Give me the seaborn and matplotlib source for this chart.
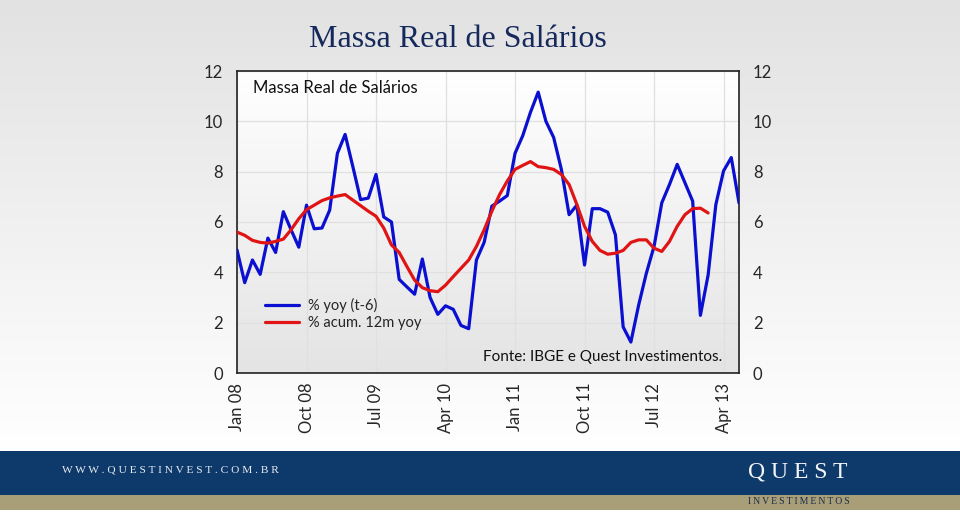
import numpy as np
import pandas as pd
import seaborn as sns
import matplotlib.pyplot as plt
from matplotlib.patches import Rectangle

# monthly series, Jan 08 .. Jun 13
yoy = [4.89, 3.59, 4.49, 3.92, 5.36, 4.79, 6.41, 5.69, 5.00, 6.67, 5.73, 5.76,
       6.47, 8.73, 9.48, 8.20, 6.89, 6.95, 7.89, 6.20, 6.00, 3.72, 3.42, 3.13,
       4.53, 3.00, 2.33, 2.67, 2.53, 1.89, 1.76, 4.49, 5.19, 6.63, 6.83, 7.05,
       8.73, 9.43, 10.36, 11.16, 10.00, 9.36, 8.09, 6.29, 6.67, 4.29, 6.53, 6.53,
       6.39, 5.49, 1.83, 1.23, 2.69, 3.96, 5.03, 6.76, 7.49, 8.29, 7.56, 6.83,
       2.29, 3.89, 6.69, 8.03, 8.56, 6.76]
acum = [5.60, 5.47, 5.27, 5.19, 5.16, 5.23, 5.32, 5.69, 6.13, 6.49, 6.67, 6.85,
        6.96, 7.03, 7.09, 6.87, 6.65, 6.43, 6.23, 5.76, 5.09, 4.79, 4.23, 3.69,
        3.39, 3.27, 3.23, 3.49, 3.83, 4.16, 4.49, 5.03, 5.69, 6.43, 7.09, 7.63,
        8.09, 8.25, 8.40, 8.20, 8.16, 8.09, 7.89, 7.49, 6.70, 5.83, 5.23, 4.87,
        4.72, 4.76, 4.87, 5.19, 5.29, 5.29, 4.96, 4.83, 5.23, 5.83, 6.29, 6.53,
        6.55, 6.36]
tick_labels = ["Jan 08", "Oct 08", "Jul 09", "Apr 10", "Jan 11", "Oct 11", "Jul 12", "Apr 13"]

df = pd.concat([
    pd.DataFrame({"mes": range(len(yoy)), "valor": yoy, "serie": "% yoy (t-6)"}),
    pd.DataFrame({"mes": range(len(acum)), "valor": acum, "serie": "% acum. 12m yoy"}),
])

sns.set_style("white")
plt.rcParams["font.family"] = ["Lato", "DejaVu Sans"]

fig = plt.figure(figsize=(9.6, 5.12), dpi=100)

# page background gradient
bg = fig.add_axes([0, 0, 1, 1], zorder=-10)
grad = np.linspace(0, 1, 256).reshape(-1, 1)
bg.imshow(grad, aspect="auto", cmap=sns.blend_palette(["#e2e2e2", "#ffffff"], as_cmap=True),
          extent=[0, 1, 0.12, 1])
bg.set_xlim(0, 1)
bg.set_ylim(0, 1)
bg.axis("off")

ax = fig.add_axes([237 / 960, 1 - 373 / 512, 502 / 960, 302 / 512])
ax.imshow(grad, aspect="auto", cmap=sns.blend_palette(["#ffffff", "#e4e4e4"], as_cmap=True),
          extent=[0, 65, 0, 12], zorder=0)

sns.lineplot(data=df, x="mes", y="valor", hue="serie", ax=ax,
             palette=["#0a0fd0", "#e01414"], linewidth=2.3, zorder=3)

ax.set_xlim(0, 65)
ax.set_ylim(0, 12)
ax.set_xticks(range(0, 64, 9))
ax.set_xticklabels(tick_labels, rotation=90, fontsize=12)
ax.set_yticks(range(0, 13, 2))
ax.tick_params(axis="y", labelleft=True, labelright=True, length=0, labelsize=12, pad=10)
ax.tick_params(axis="x", length=0, pad=7)
ax.grid(True, color="#e0e0e0", linewidth=0.9)
ax.set_axisbelow(True)
for s in ax.spines.values():
    s.set_visible(True)
    s.set_color("#222222")
    s.set_linewidth(1.2)
ax.set_xlabel("")
ax.set_ylabel("")

ax.legend(loc="center left", bbox_to_anchor=(0.045, 0.195), frameon=False, fontsize=10.5,
          handlelength=2.3, labelspacing=0.25, borderaxespad=0, handletextpad=0.6)

ax.text(0.032, 0.944, "Massa Real de Salários", transform=ax.transAxes, fontsize=12,
        va="center", ha="left", color="#111111")
ax.text(0.49, 0.053, "Fonte: IBGE e Quest Investimentos.", transform=ax.transAxes,
        fontsize=11, va="center", ha="left", color="#111111")

fig.text(0.477, 0.922, "Massa Real de Salários", ha="center", va="center",
         fontsize=23, family="Liberation Serif", color="#15295c")

# footer bands
fig.patches.append(Rectangle((0, 1 - 495 / 512), 1, 44 / 512, transform=fig.transFigure,
                             facecolor="#0e3a6b", edgecolor="none", zorder=-5))
fig.patches.append(Rectangle((0, 1 - 510 / 512), 1, 15 / 512, transform=fig.transFigure,
                             facecolor="#a89f78", edgecolor="none", zorder=-5))
fig.text(62 / 960, 1 - 470 / 512, "W W W . Q U E S T I N V E S T . C O M . B R", ha="left",
         va="center", fontsize=8.2, family="Liberation Serif", color="#e8ecf2")
fig.text(748 / 960, 1 - 472 / 512, "Q U E S T", ha="left", va="center",
         fontsize=17, family="Liberation Serif", color="#f2f4f8")
fig.text(748 / 960, 1 - 502 / 512, "\u2009".join("INVESTIMENTOS"), ha="left", va="center",
         fontsize=7, family="Liberation Serif", color="#1a2a4a")

fig.savefig("out.png", dpi=100)
